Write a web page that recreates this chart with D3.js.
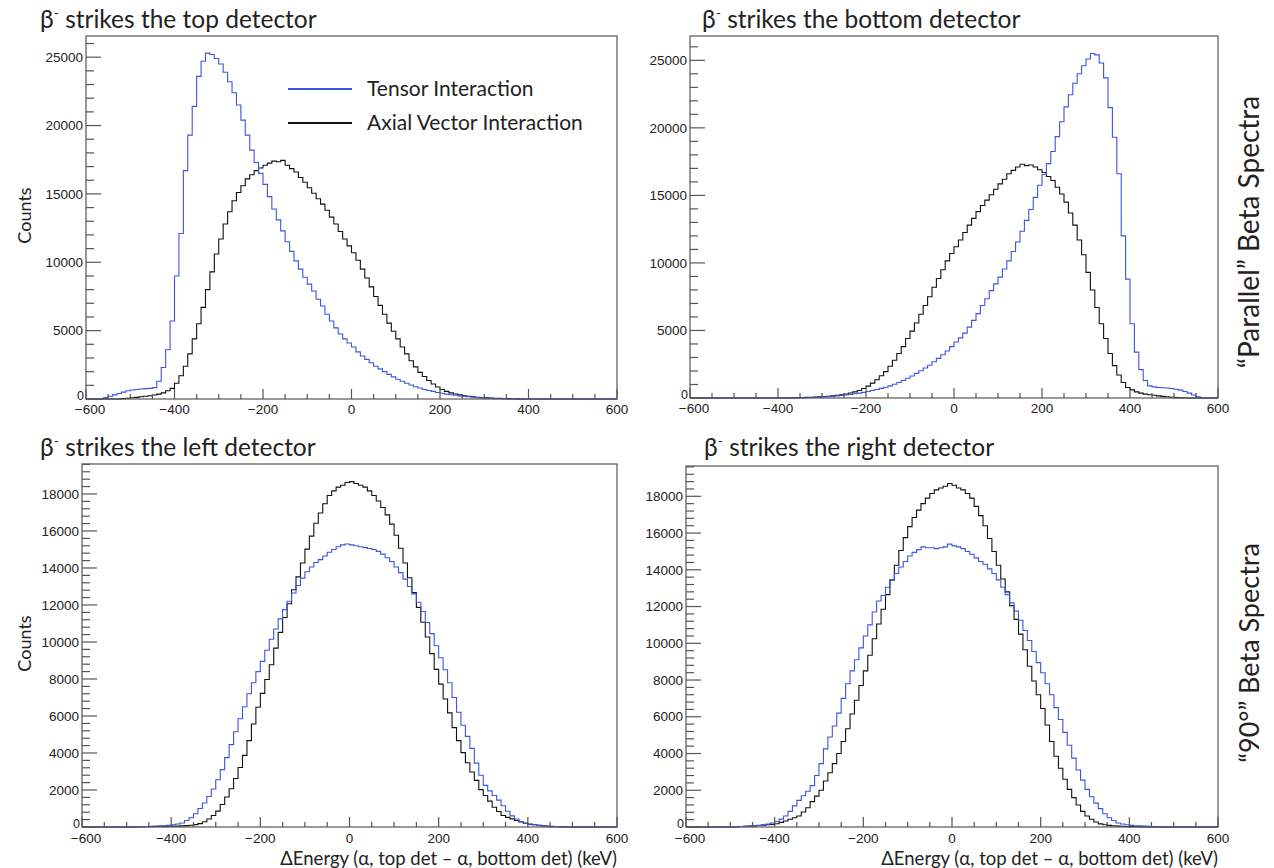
<!DOCTYPE html>
<html><head><meta charset="utf-8">
<script src="https://cdn.jsdelivr.net/npm/d3@7"></script>
<style>body{margin:0;background:#fff}svg{display:block}</style>
</head><body>
<svg id="c" width="1274" height="868"></svg>
<script>
const BIN = 10;                       // keV per histogram bin
const xTickValues = [-600,-400,-200,0,200,400,600];
const seriesNames = ["Tensor Interaction","Axial Vector Interaction"];

// Top panel, beta strikes top detector
const topTensorStart = -560;
const topTensor = [100,200,300,400,500,600,660,700,730,760,780,830,1300,2300,3600,5700,9000,12100,16700,19300,21400,23600,24700,25300,25200,24900,24500,23900,23200,22400,21500,20400,19300,18200,17300,16500,15700,14800,13900,13100,12300,11500,10800,10100,9500,8900,8400,7900,7300,6800,6200,5700,5200,4750,4400,4100,3800,3450,3150,2900,2650,2400,2200,2000,1800,1620,1450,1300,1150,1020,900,800,700,620,560,480,420,360,310,270,230,190,160,130,100,80,60,45,30,20,10,5];
const topAxialStart = -520;
const topAxial = [30,60,90,120,160,200,240,290,360,450, 600,780,1150,1700,2400,3300,4400,5500,6700,8000, 9300,10600,11700,12800,13700,14500,15100,15600,16100,16400, 16700,16900,17100,17250,17400,17350,17450,17100,16850,16600, 16200,15850,15450,15050,14650,14250,13800,13300,12800,12250, 11700,11200,10700,10150,9500,8850,8200,7500,6850,6200, 5550,4950,4400,3800,3300,2800,2350,1950,1650,1350, 1100,880,700,560,450,370,300,240,200,160, 130,110,90,70,60,50,40,30,20,10];

// beta strikes bottom detector
const bottomTensorStart = -360;
const bottomTensor = [5,10,20,30,45,60,80,100,130,160, 190,230,270,310,360,420,480,560,630,710, 800,900,1020,1150,1300,1460,1630,1820,2020,2220, 2430,2680,2930,3200,3480,3800,4150,4450,4800,5250, 5750,6250,6850,7350,7950,8450,8950,9550,10150,10850, 11550,12350,13150,13950,14850,15750,16550,17350,18250,19350, 20450,21550,22450,23300,24000,24600,25100,25500,25400,24800, 23700,21500,19300,16600,12000,8800,5500,3400,2100,1300, 900,820,780,760,740,700,650,580,480,360,220,80];
const bottomAxialStart = -380;
const bottomAxial = [10,20,30,40,50,60,70,90,110,130, 160,200,240,300,370,450,560,700,880,1100, 1350,1650,1950,2350,2800,3300,3800,4400,4950,5550, 6200,6850,7500,8200,8850,9500,10150,10700,11200,11700, 12250,12800,13300,13800,14250,14650,15050,15450,15850,16200, 16600,16850,17100,17300,17200,17250,17100,16900,16700,16400, 16100,15600,15100,14500,13700,12800,11700,10600,9300,8000, 6700,5500,4400,3300,2400,1700,1150,780,600,450, 360,290,240,200,160,120,90,60,30,15];

// beta strikes left detector
const leftTensorStart = -480;
const leftTensor = [10,20,30,40,50,60,70,90,120,160, 220,350,500,720,1000,1300,1650,2050,2550,3100, 3750,4450,5150,5850,6500,7200,7800,8400,8950,9550, 10150,10700,11250,11750,12200,12650,13050,13450,13800,14050, 14300,14450,14650,14850,15000,15150,15250,15300,15250,15200, 15150,15100,15050,15000,14900,14750,14550,14350,14050,13750, 13400,13000,12600,12150,11650,11050,10450,9800,9150,8500, 7800,7000,6200,5500,4900,4250,3450,2800,2250,1950, 1700,1450,1150,850,600,430,300,220,160,120, 90,70,55,40,30,20,10];
const leftAxialStart = -470;
const leftAxial = [10,15,20,25,30,35,40,45,50,60, 75,95,130,180,280,430,620,860,1220,1620, 2070,2620,3220,3870,4670,5570,6470,7220,7970,8770, 9670,10520,11320,12070,12820,13520,14270,15020,15720,16420, 16970,17470,17920,18170,18370,18470,18620,18670,18570,18470, 18370,18170,17920,17620,17270,16870,16370,15770,15070,14270, 13470,12670,11870,11070,10270,9370,8520,7720,6920,6170, 5370,4670,4020,3470,2970,2520,2020,1700,1400,1070, 840,620,520,440,350,270,200,150,120,90, 60,40,20,10];

// beta strikes right detector
const rightTensorStart = -480;
const rightTensor = [30,40,55,70,90,120,160,220,300,430, 600,850,1150,1450,1700,1950,2250,2800,3450,4250, 4900,5500,6200,7000,7800,8500,9100,9750,10400,11000, 11700,12300,12600,13050,13450,13800,14150,14450,14750,14950, 15100,15250,15200,15200,15150,15200,15250,15400,15300,15250, 15150,15000,14850,14650,14450,14300,14050,13800,13450,13050, 12650,12200,11750,11250,10700,10150,9550,8950,8400,7800, 7200,6500,5850,5150,4450,3750,3100,2550,2050,1650, 1300,1000,720,500,350,220,160,120,90,70, 60,50,40,30,20,10];
const rightAxialStart = -480;
const rightAxial = [30,40,50,60,80,100,120,145,180,250, 330,420,500,600,820,1050,1380,1680,2000,2500, 2950,3450,4000,4650,5350,6150,6900,7700,8500,9350, 10250,11050,11850,12650,13450,14250,15050,15750,16350,16850, 17250,17600,17900,18150,18350,18450,18550,18700,18600,18450, 18350,18150,17900,17450,16950,16400,15700,15000,14250,13500, 12800,12050,11300,10500,9650,8750,7950,7200,6450,5550, 4650,3850,3200,2600,2050,1600,1200,850,600,420, 270,170,120,90,70,50,40,30,20,10, 5];

const panels = [
  {det:"top",    L:86,  R:617,  T:36,  B:399, ymax:26550, major:5000, minor:1000, tS:topTensorStart, t:topTensor, aS:topAxialStart, a:topAxial, counts:true, legend:true, xlabel:false, tx:40, ty:28, lab:15},
  {det:"bottom", L:690, R:1218, T:36,  B:398, ymax:26800, major:5000, minor:1000, tS:bottomTensorStart, t:bottomTensor, aS:bottomAxialStart, a:bottomAxial, counts:false, legend:false, xlabel:false, tx:702, ty:28, lab:15},
  {det:"left",   L:82,  R:617,  T:464, B:827, ymax:19620, major:2000, minor:400, tS:leftTensorStart, t:leftTensor, aS:leftAxialStart, a:leftAxial, counts:true, legend:false, xlabel:true, tx:40, ty:456, lab:16},
  {det:"right",  L:686, R:1218, T:466, B:827, ymax:19650, major:2000, minor:400, tS:rightTensorStart, t:rightTensor, aS:rightAxialStart, a:rightAxial, counts:false, legend:false, xlabel:true, tx:704, ty:456, lab:16}
];

const BLUE = "#3a55e0", BLACK = "#111", FRAME = "#555";
const TITLEFONT = "Lato, 'Open Sans', 'Noto Sans', sans-serif";
const AXFONT = "'Liberation Sans', Arial, sans-serif";
const svg = d3.select("#c");

function histPoints(start, vals, x0, x1) {
  const pts = [[x0, 0]];
  vals.forEach((v, i) => pts.push([start + i * BIN, v]));
  pts.push([start + vals.length * BIN, 0]);
  pts.push([x1, 0]);
  return pts;
}

panels.forEach(p => {
  const g = svg.append("g");
  const x = d3.scaleLinear().domain([-600, 600]).range([p.L, p.R]);
  const y = d3.scaleLinear().domain([0, p.ymax]).range([p.B, p.T]);

  // title
  const t = g.append("text").attr("x", p.tx).attr("y", p.ty)
    .attr("font-family", TITLEFONT).attr("font-size", 24.5).attr("fill", "#222");
  t.append("tspan").text("β");
  t.append("tspan").attr("font-size", 14).attr("dy", -10).text("-");
  t.append("tspan").attr("dy", 10).text(" strikes the " + p.det + " detector");

  // histograms
  const line = d3.line().x(d => x(d[0])).y(d => y(d[1])).curve(d3.curveStepAfter);
  g.append("path").attr("d", line(histPoints(p.aS, p.a, -600, 600)))
    .attr("fill", "none").attr("stroke", BLACK).attr("stroke-width", 1.1);
  g.append("path").attr("d", line(histPoints(p.tS, p.t, -600, 600)))
    .attr("fill", "none").attr("stroke", BLUE).attr("stroke-width", 1.1);

  // frame
  g.append("rect").attr("x", p.L).attr("y", p.T).attr("width", p.R - p.L).attr("height", p.B - p.T)
    .attr("fill", "none").attr("stroke", FRAME).attr("stroke-width", 1.2);

  // y ticks
  const yMinor = d3.range(0, p.ymax + 1, p.minor);
  g.selectAll(".ymin").data(yMinor).join("line")
    .attr("x1", p.L).attr("x2", d => p.L + (d % p.major === 0 ? 15 : 8))
    .attr("y1", d => y(d)).attr("y2", d => y(d)).attr("stroke", FRAME).attr("stroke-width", 1.2);
  const yMajor = d3.range(0, p.ymax + 1, p.major);
  g.selectAll(".ylab").data(yMajor).join("text")
    .attr("x", d => d === 0 ? p.L - 2 : p.L - 3).attr("y", d => d === 0 ? y(d) - 3 : y(d)).attr("dy", "0.35em")
    .attr("text-anchor", "end").attr("font-family", AXFONT).attr("font-size", d => d === 0 ? 12.5 : 13.5).attr("fill", "#222")
    .text(d => d);

  // x ticks
  const xMinor = d3.range(-600, 601, 50);
  g.selectAll(".xmin").data(xMinor).join("line")
    .attr("x1", d => x(d)).attr("x2", d => x(d))
    .attr("y1", p.B).attr("y2", d => p.B - (d % 200 === 0 ? 10 : 5))
    .attr("stroke", FRAME).attr("stroke-width", 1.2);
  g.selectAll(".xlab").data(xTickValues).join("text")
    .attr("x", d => d === -600 ? x(d) + 4 : x(d)).attr("y", p.B + p.lab)
    .attr("text-anchor", "middle").attr("font-family", AXFONT).attr("font-size", 13.5).attr("fill", "#222")
    .text(d => d < 0 ? "\u2212" + Math.abs(d) : d);

  if (p.counts) {
    g.append("text").attr("transform", `translate(31,${(p.T + p.B) / 2 - 2}) rotate(-90)`)
      .attr("text-anchor", "middle").attr("font-family", TITLEFONT).attr("font-size", 18).attr("fill", "#222")
      .text("Counts");
  }
  if (p.xlabel) {
    g.append("text").attr("x", p.R).attr("y", 865).attr("text-anchor", "end")
      .attr("font-family", TITLEFONT).attr("font-size", 18.5).attr("fill", "#222")
      .text("ΔEnergy (α, top det – α, bottom det) (keV)");
  }
  if (p.legend) {
    const colors = [BLUE, BLACK];
    const lg = g.append("g");
    seriesNames.forEach((n, i) => {
      const yy = 89 + i * 34;
      lg.append("line").attr("x1", 288).attr("x2", 352).attr("y1", yy).attr("y2", yy)
        .attr("stroke", colors[i]).attr("stroke-width", 2.2);
      lg.append("text").attr("x", 367).attr("y", yy).attr("dy", "0.35em")
        .attr("font-family", TITLEFONT).attr("font-size", 21).attr("fill", "#222").text(n);
    });
  }
});

// side labels
svg.append("text").attr("transform", "translate(1259,232) rotate(-90)")
  .attr("text-anchor", "middle").attr("font-family", TITLEFONT).attr("font-size", 28).attr("fill", "#222")
  .text("“Parallel” Beta Spectra");
svg.append("text").attr("transform", "translate(1259,653) rotate(-90)")
  .attr("text-anchor", "middle").attr("font-family", TITLEFONT).attr("font-size", 27).attr("fill", "#222")
  .text("“90°” Beta Spectra");
</script>
</body></html>
